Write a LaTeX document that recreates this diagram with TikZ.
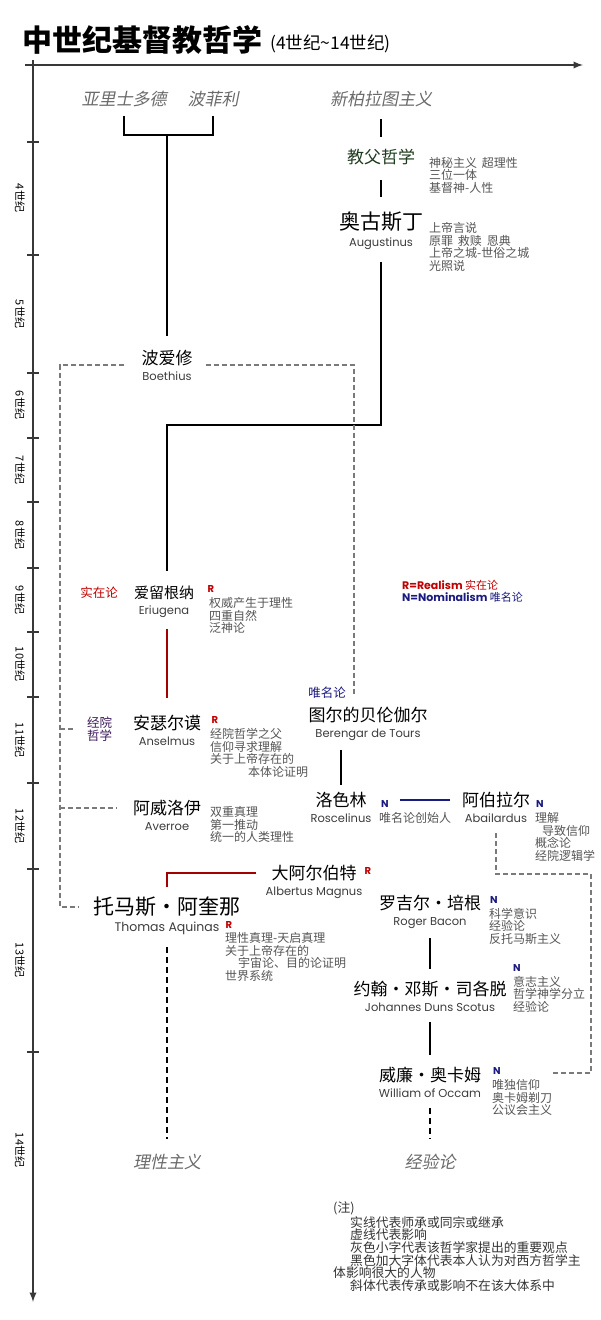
\documentclass[tikz,border=0pt]{standalone}
\usepackage{fontspec}
\setmainfont{Noto Sans CJK SC}
\newfontfamily\enfont{Poppins}
\newfontfamily\slfont[FakeSlant=0.2]{Noto Sans CJK SC}
\definecolor{notegray}{HTML}{555555}
\definecolor{engray}{HTML}{3C3C3C}
\definecolor{italgray}{HTML}{6A6A6A}
\definecolor{realred}{HTML}{C00000}
\definecolor{nomblue}{HTML}{1A1A80}
\definecolor{patgreen}{HTML}{1E3A1E}
\definecolor{schpurple}{HTML}{3C1A5A}
\definecolor{dashgray}{HTML}{7A7A7A}
\definecolor{axisgray}{HTML}{383838}
\tikzset{
  axis/.style={draw=axisgray,line width=2.2pt,-latex},
  notch/.style={draw=axisgray,line width=1.8pt},
  era/.style={rotate=-90,inner sep=0pt,font=\fontsize{11}{11}\selectfont},
  cname/.style={inner sep=0pt,font=\fontsize{17}{17}\selectfont},
  bigname/.style={inner sep=0pt,font=\fontsize{21}{21}\selectfont},
  school/.style={inner sep=0pt,text=italgray,font=\slfont\fontsize{17}{17}\selectfont},
  en/.style={inner sep=0pt,text=engray,text height=9pt,text depth=3pt,font=\enfont\fontsize{11.5}{12}\selectfont},
  note/.style={anchor=north west,align=left,inner sep=0pt,text=notegray,font=\fontsize{12}{12.5}\selectfont},
  tag/.style={inner sep=0pt,font=\fontsize{12.5}{12.5}\selectfont},
  rnmark/.style={inner sep=0pt,font=\enfont\bfseries\fontsize{10}{10}\selectfont},
  tie/.style={draw=black,line width=1.4pt},
  redtie/.style={draw=realred!85!black,line width=1.8pt},
  navytie/.style={draw=nomblue,line width=1.4pt},
  infl/.style={draw=dashgray,line width=1.1pt,dash pattern=on 5pt off 3pt},
  heir/.style={draw=black,line width=1.6pt,dash pattern=on 6pt off 4pt}
}
\begin{document}
\begin{tikzpicture}[x=1pt,y=-1pt,label distance=5pt]
\useasboundingbox (0,0) rectangle (600,1320);
% title
\node[anchor=west,inner sep=0pt,font=\fontsize{30}{30}\selectfont\bfseries] (title) at (22,40) {中世纪基督教哲学};
\node[anchor=west,inner sep=0pt,font=\fontsize{17.5}{17.5}\selectfont] (span) at (270,44) {(4世纪\textasciitilde 14世纪)};
% the two time axes
\draw[axis] (25,65) -- (583,65);
\draw[axis] (33,60) -- (33,1302);
% century ticks and their labels
\foreach \y in {142,255,373,438,502,568,632,697,783,869,1052}
  \draw[notch] (27,\y) -- (39,\y);
\foreach \y/\cen in {198/4,314/5,405/6,470/7,535/8,600/9,664/10,740/11,826/12,960/13,1150/14}
  \node[era] (era\cen) at (20,\y) {\cen 世纪};
% sources
\node[school] (arist) at (124,99) {亚里士多德};
\node[school] (porph) at (213,99) {波菲利};
\node[school] (neopl) at (381,99) {新柏拉图主义};
% philosophers
\node[cname,text=patgreen] (patr) at (381,157) {教父哲学};
\node[bigname,label={[en]below:Augustinus}] (aug) at (381,222) {奥古斯丁};
\node[cname,label={[en]below:Boethius}] (boeth) at (167,358) {波爱修};
\node[cname,font=\fontsize{15}{15}\selectfont,label={[en]below:Eriugena}] (eriu) at (164,593) {爱留根纳};
\node[cname,label={[en]below:Anselmus}] (ansel) at (167,723) {安瑟尔谟};
\node[cname,label={[en]below:Averroe}] (averr) at (167,808) {阿威洛伊};
\node[bigname,label={[en,font=\enfont\fontsize{12.5}{13}\selectfont]below:Thomas Aquinas}] (thomas) at (167,907) {托马斯・阿奎那};
\node[cname,label={[en]below:Albertus Magnus}] (albert) at (314,873) {大阿尔伯特};
\node[cname,label={[en]below:Berengar de Tours}] (beren) at (368,715) {图尔的贝伦伽尔};
\node[cname,label={[en]below:Roscelinus}] (rosc) at (341,800) {洛色林};
\node[cname,label={[en]below:Abailardus}] (abail) at (496,800) {阿伯拉尔};
\node[cname,label={[en]below:Roger Bacon}] (bacon) at (430,903) {罗吉尔・培根};
\node[cname,label={[en]below:Johannes Duns Scotus}] (scotus) at (430,989) {约翰・邓斯・司各脱};
\node[cname,label={[en]below:William of Occam}] (occam) at (430,1075) {威廉・奥卡姆};
\node[school] (ratio) at (167,1162) {理性主义};
\node[school] (empir) at (430,1162) {经验论};
% school tags
\node[tag,text=realred] (realtag) at (99,593) {实在论};
\node[tag,text=nomblue] (nomtag) at (327,693) {唯名论};
\node[tag,text=schpurple,align=center] (schtag) at (99.5,729) {经院\\哲学};
% R and N marks
\node[rnmark,text=realred] (eriR) at (211,589) {R};
\node[rnmark,text=realred] (anselR) at (215,720) {R};
\node[rnmark,text=realred] (albertR) at (368,871) {R};
\node[rnmark,text=realred] (thomasR) at (229,925) {R};
\node[rnmark,text=nomblue] (roscN) at (385,804) {N};
\node[rnmark,text=nomblue] (abailN) at (540,804) {N};
\node[rnmark,text=nomblue] (baconN) at (494,900) {N};
\node[rnmark,text=nomblue] (scotusN) at (517,968) {N};
\node[rnmark,text=nomblue] (occamN) at (497,1071) {N};
% ideas
\node[note] (patrn) at (429,157) {神秘主义\hspace{.4em}超理性\\三位一体\\基督神-人性};
\node[note] (augn) at (429,222.6) {上帝言说\\原罪\hspace{.4em}救赎\hspace{.4em}恩典\\上帝之城-世俗之城\\光照说};
\node[note] (eriun) at (209,597.6) {权威产生于理性\\四重自然\\泛神论};
\node[note] (anseln) at (210,728.6) {经院哲学之父\\信仰寻求理解\\关于上帝存在的\\\hspace*{38pt}本体论证明};
\node[note] (averrn) at (210,806.6) {双重真理\\第一推动\\统一的人类理性};
\node[note] (roscn) at (379,812.6) {唯名论创始人};
\node[note] (abailn) at (535,812.6) {理解\\\hspace*{7pt}导致信仰\\概念论\\经院逻辑学};
\node[note] (thomasn) at (225,932.6) {理性真理-天启真理\\关于上帝存在的\\\hspace*{13pt}宇宙论、目的论证明\\世界系统};
\node[note] (baconn) at (489,907.6) {科学意识\\经验论\\反托马斯主义};
\node[note] (scotusn) at (513,975.6) {意志主义\\哲学神学分立\\经验论};
\node[note] (occamn) at (492,1079.6) {唯独信仰\\奥卡姆剃刀\\公议会主义};
% legend
\node[anchor=west,align=left,inner sep=0pt,font=\fontsize{11}{12}\selectfont] (legend) at (402,591)
  {{\color{realred}{\enfont\bfseries R=Realism} 实在论}\\{\color{nomblue}{\enfont\bfseries N=Nominalism} 唯名论}};
% solid lines: teaching and inheritance
\coordinate (join) at (167,135);
\draw[tie] ([yshift=-9pt]arist.south) |- (join) -| ([yshift=-9pt]porph.south);
\draw[tie,shorten >=14pt] (join) -- (join |- boeth.north);
\draw[tie,shorten <=12pt,shorten >=12pt] (neopl) -- (patr);
\draw[tie,shorten <=15pt,shorten >=15pt] (patr) -- (aug);
\coordinate (augbend) at (167,425);
\draw[tie,shorten <=30pt,shorten >=15pt] (aug) |- (augbend) -- (augbend |- eriu.north);
\draw[redtie,shorten <=29pt,shorten >=17pt] (eriu.south -| ansel) -- (ansel);
\draw[redtie,shorten <=15pt,shorten >=10pt] (albert) -| (thomas);
\draw[tie,shorten <=27pt,shorten >=7pt] (beren.south -| rosc) -- (rosc);
\draw[navytie,shorten <=11pt,shorten >=12pt] (abail.west -| roscN.east) -- (abail.west);
\draw[tie,shorten <=27pt,shorten >=12pt] (bacon) -- (scotus);
\draw[tie,shorten <=25pt,shorten >=12pt] (scotus) -- (occam);
% dashed lines: influence
\coordinate (boL) at (60,365);
\coordinate (boR) at (354,365);
\coordinate (boend) at (354,695);
\draw[infl,shorten <=17pt,shorten >=14pt] (boeth.west |- boL) -- (boL) |- (thomas);
\draw[infl,shorten <=13pt] (boeth.east |- boR) -- (boR) -- (boend);
\draw[infl,shorten >=12pt] (schtag.west -| boL) -- (schtag.west);
\draw[infl,shorten >=16pt] (averr.west -| boL) -- (averr.west);
\coordinate (abturn) at (591,874);
\coordinate (abend) at (550,1073);
\draw[infl,shorten <=25pt] (abail) |- (abturn) |- (abend);
\draw[heir,shorten <=30pt,shorten >=15pt] (thomas) -- (ratio);
\draw[heir,shorten <=25pt,shorten >=15pt] (occam) -- (empir);
% remarks
\node[anchor=north west,align=left,inner sep=0pt,text=black!80,font=\fontsize{12.8}{12.7}\selectfont] (remarks) at (333,1201.6)
  {(注)\\\hspace*{17pt}实线代表师承或同宗或继承\\\hspace*{17pt}虚线代表影响\\\hspace*{17pt}灰色小字代表该哲学家提出的重要观点\\\hspace*{17pt}黑色加大字体代表本人认为对西方哲学主\\体影响很大的人物\\\hspace*{17pt}斜体代表传承或影响不在该大体系中};
\end{tikzpicture}
\end{document}
